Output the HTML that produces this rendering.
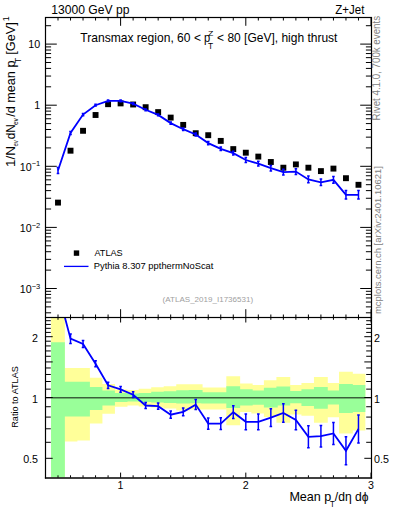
<!DOCTYPE html><html><head><meta charset="utf-8"><style>html,body{margin:0;padding:0;background:#fff;width:393px;height:512px;overflow:hidden}svg{display:block}text{font-family:"Liberation Sans", sans-serif}</style></head><body>
<svg width="393" height="512" viewBox="0 0 393 512">
<rect width="393" height="512" fill="#fff"/>
<defs><clipPath id="cm"><rect x="45.50" y="17.50" width="326.00" height="300.00"/></clipPath>
<clipPath id="cr"><rect x="45.50" y="317.50" width="326.00" height="160.10"/></clipPath></defs>
<g clip-path="url(#cr)">
<path d="M351.52 373.80H365.34V430.60H351.52ZM339.00 371.80H352.82V433.40H339.00ZM326.48 383.00H340.30V417.20H326.48ZM313.96 377.10H327.78V422.80H313.96ZM301.44 383.00H315.26V415.80H301.44ZM288.92 385.00H302.74V414.40H288.92ZM276.40 377.00H290.22V422.80H276.40ZM263.88 380.30H277.70V417.00H263.88ZM251.36 385.10H265.18V413.40H251.36ZM238.84 383.40H252.66V412.00H238.84ZM226.32 376.20H240.14V425.30H226.32ZM213.80 387.50H227.62V409.60H213.80ZM201.28 387.50H215.10V409.60H201.28ZM188.76 384.20H202.58V409.60H188.76ZM176.24 384.20H190.06V410.60H176.24ZM163.72 386.20H177.54V408.60H163.72ZM151.20 387.20H165.02V407.60H151.20ZM138.68 388.80H152.50V406.60H138.68ZM126.16 390.00H139.98V405.50H126.16ZM113.64 389.40H127.46V406.70H113.64ZM101.12 384.00H114.94V413.80H101.12ZM88.60 377.80H102.42V423.60H88.60ZM76.08 368.00H89.90V440.50H76.08ZM63.56 368.00H77.38V441.60H63.56ZM51.04 317.50H64.86V477.60H51.04Z" fill="#ffff99"/>
<path d="M351.52 385.00H365.34V412.10H351.52ZM339.00 384.10H352.82V413.00H339.00ZM326.48 390.60H340.30V404.60H326.48ZM313.96 387.00H327.78V408.80H313.96ZM301.44 389.20H315.26V406.00H301.44ZM288.92 391.10H302.74V403.20H288.92ZM276.40 386.60H290.22V405.40H276.40ZM263.88 387.70H277.70V407.50H263.88ZM251.36 390.60H265.18V404.80H251.36ZM238.84 389.30H252.66V405.50H238.84ZM226.32 386.20H240.14V407.90H226.32ZM213.80 392.20H227.62V403.60H213.80ZM201.28 392.20H215.10V403.60H201.28ZM188.76 390.00H202.58V403.30H188.76ZM176.24 390.30H190.06V403.50H176.24ZM163.72 391.30H177.54V403.10H163.72ZM151.20 391.70H165.02V402.50H151.20ZM138.68 392.90H152.50V401.90H138.68ZM126.16 393.50H139.98V401.50H126.16ZM113.64 393.10H127.46V401.90H113.64ZM101.12 390.60H114.94V405.40H101.12ZM88.60 387.10H102.42V409.90H88.60ZM76.08 381.70H89.90V416.60H76.08ZM63.56 381.70H77.38V416.60H63.56ZM51.04 342.20H64.86V477.60H51.04Z" fill="#99ff99"/>
</g>
<line x1="45.50" y1="397.80" x2="371.50" y2="397.80" stroke="#000" stroke-opacity="0.62" stroke-width="1.5"/>
<g><line x1="58.00" y1="17.50" x2="58.00" y2="20.50" stroke="#000" stroke-width="1.00"/><line x1="58.00" y1="317.50" x2="58.00" y2="314.50" stroke="#000" stroke-width="1.00"/><line x1="58.00" y1="317.50" x2="58.00" y2="319.80" stroke="#000" stroke-width="1.00"/><line x1="58.00" y1="477.60" x2="58.00" y2="475.30" stroke="#000" stroke-width="1.00"/><line x1="70.52" y1="17.50" x2="70.52" y2="20.50" stroke="#000" stroke-width="1.00"/><line x1="70.52" y1="317.50" x2="70.52" y2="314.50" stroke="#000" stroke-width="1.00"/><line x1="70.52" y1="317.50" x2="70.52" y2="319.80" stroke="#000" stroke-width="1.00"/><line x1="70.52" y1="477.60" x2="70.52" y2="475.30" stroke="#000" stroke-width="1.00"/><line x1="83.04" y1="17.50" x2="83.04" y2="20.50" stroke="#000" stroke-width="1.00"/><line x1="83.04" y1="317.50" x2="83.04" y2="314.50" stroke="#000" stroke-width="1.00"/><line x1="83.04" y1="317.50" x2="83.04" y2="319.80" stroke="#000" stroke-width="1.00"/><line x1="83.04" y1="477.60" x2="83.04" y2="475.30" stroke="#000" stroke-width="1.00"/><line x1="95.56" y1="17.50" x2="95.56" y2="20.50" stroke="#000" stroke-width="1.00"/><line x1="95.56" y1="317.50" x2="95.56" y2="314.50" stroke="#000" stroke-width="1.00"/><line x1="95.56" y1="317.50" x2="95.56" y2="319.80" stroke="#000" stroke-width="1.00"/><line x1="95.56" y1="477.60" x2="95.56" y2="475.30" stroke="#000" stroke-width="1.00"/><line x1="108.08" y1="17.50" x2="108.08" y2="20.50" stroke="#000" stroke-width="1.00"/><line x1="108.08" y1="317.50" x2="108.08" y2="314.50" stroke="#000" stroke-width="1.00"/><line x1="108.08" y1="317.50" x2="108.08" y2="319.80" stroke="#000" stroke-width="1.00"/><line x1="108.08" y1="477.60" x2="108.08" y2="475.30" stroke="#000" stroke-width="1.00"/><line x1="120.60" y1="17.50" x2="120.60" y2="25.80" stroke="#000" stroke-width="1.00"/><line x1="120.60" y1="317.50" x2="120.60" y2="309.20" stroke="#000" stroke-width="1.00"/><line x1="120.60" y1="317.50" x2="120.60" y2="322.50" stroke="#000" stroke-width="1.00"/><line x1="120.60" y1="477.60" x2="120.60" y2="472.60" stroke="#000" stroke-width="1.00"/><line x1="133.12" y1="17.50" x2="133.12" y2="20.50" stroke="#000" stroke-width="1.00"/><line x1="133.12" y1="317.50" x2="133.12" y2="314.50" stroke="#000" stroke-width="1.00"/><line x1="133.12" y1="317.50" x2="133.12" y2="319.80" stroke="#000" stroke-width="1.00"/><line x1="133.12" y1="477.60" x2="133.12" y2="475.30" stroke="#000" stroke-width="1.00"/><line x1="145.64" y1="17.50" x2="145.64" y2="20.50" stroke="#000" stroke-width="1.00"/><line x1="145.64" y1="317.50" x2="145.64" y2="314.50" stroke="#000" stroke-width="1.00"/><line x1="145.64" y1="317.50" x2="145.64" y2="319.80" stroke="#000" stroke-width="1.00"/><line x1="145.64" y1="477.60" x2="145.64" y2="475.30" stroke="#000" stroke-width="1.00"/><line x1="158.16" y1="17.50" x2="158.16" y2="20.50" stroke="#000" stroke-width="1.00"/><line x1="158.16" y1="317.50" x2="158.16" y2="314.50" stroke="#000" stroke-width="1.00"/><line x1="158.16" y1="317.50" x2="158.16" y2="319.80" stroke="#000" stroke-width="1.00"/><line x1="158.16" y1="477.60" x2="158.16" y2="475.30" stroke="#000" stroke-width="1.00"/><line x1="170.68" y1="17.50" x2="170.68" y2="20.50" stroke="#000" stroke-width="1.00"/><line x1="170.68" y1="317.50" x2="170.68" y2="314.50" stroke="#000" stroke-width="1.00"/><line x1="170.68" y1="317.50" x2="170.68" y2="319.80" stroke="#000" stroke-width="1.00"/><line x1="170.68" y1="477.60" x2="170.68" y2="475.30" stroke="#000" stroke-width="1.00"/><line x1="183.20" y1="17.50" x2="183.20" y2="20.50" stroke="#000" stroke-width="1.00"/><line x1="183.20" y1="317.50" x2="183.20" y2="314.50" stroke="#000" stroke-width="1.00"/><line x1="183.20" y1="317.50" x2="183.20" y2="319.80" stroke="#000" stroke-width="1.00"/><line x1="183.20" y1="477.60" x2="183.20" y2="475.30" stroke="#000" stroke-width="1.00"/><line x1="195.72" y1="17.50" x2="195.72" y2="20.50" stroke="#000" stroke-width="1.00"/><line x1="195.72" y1="317.50" x2="195.72" y2="314.50" stroke="#000" stroke-width="1.00"/><line x1="195.72" y1="317.50" x2="195.72" y2="319.80" stroke="#000" stroke-width="1.00"/><line x1="195.72" y1="477.60" x2="195.72" y2="475.30" stroke="#000" stroke-width="1.00"/><line x1="208.24" y1="17.50" x2="208.24" y2="20.50" stroke="#000" stroke-width="1.00"/><line x1="208.24" y1="317.50" x2="208.24" y2="314.50" stroke="#000" stroke-width="1.00"/><line x1="208.24" y1="317.50" x2="208.24" y2="319.80" stroke="#000" stroke-width="1.00"/><line x1="208.24" y1="477.60" x2="208.24" y2="475.30" stroke="#000" stroke-width="1.00"/><line x1="220.76" y1="17.50" x2="220.76" y2="20.50" stroke="#000" stroke-width="1.00"/><line x1="220.76" y1="317.50" x2="220.76" y2="314.50" stroke="#000" stroke-width="1.00"/><line x1="220.76" y1="317.50" x2="220.76" y2="319.80" stroke="#000" stroke-width="1.00"/><line x1="220.76" y1="477.60" x2="220.76" y2="475.30" stroke="#000" stroke-width="1.00"/><line x1="233.28" y1="17.50" x2="233.28" y2="20.50" stroke="#000" stroke-width="1.00"/><line x1="233.28" y1="317.50" x2="233.28" y2="314.50" stroke="#000" stroke-width="1.00"/><line x1="233.28" y1="317.50" x2="233.28" y2="319.80" stroke="#000" stroke-width="1.00"/><line x1="233.28" y1="477.60" x2="233.28" y2="475.30" stroke="#000" stroke-width="1.00"/><line x1="245.80" y1="17.50" x2="245.80" y2="25.80" stroke="#000" stroke-width="1.00"/><line x1="245.80" y1="317.50" x2="245.80" y2="309.20" stroke="#000" stroke-width="1.00"/><line x1="245.80" y1="317.50" x2="245.80" y2="322.50" stroke="#000" stroke-width="1.00"/><line x1="245.80" y1="477.60" x2="245.80" y2="472.60" stroke="#000" stroke-width="1.00"/><line x1="258.32" y1="17.50" x2="258.32" y2="20.50" stroke="#000" stroke-width="1.00"/><line x1="258.32" y1="317.50" x2="258.32" y2="314.50" stroke="#000" stroke-width="1.00"/><line x1="258.32" y1="317.50" x2="258.32" y2="319.80" stroke="#000" stroke-width="1.00"/><line x1="258.32" y1="477.60" x2="258.32" y2="475.30" stroke="#000" stroke-width="1.00"/><line x1="270.84" y1="17.50" x2="270.84" y2="20.50" stroke="#000" stroke-width="1.00"/><line x1="270.84" y1="317.50" x2="270.84" y2="314.50" stroke="#000" stroke-width="1.00"/><line x1="270.84" y1="317.50" x2="270.84" y2="319.80" stroke="#000" stroke-width="1.00"/><line x1="270.84" y1="477.60" x2="270.84" y2="475.30" stroke="#000" stroke-width="1.00"/><line x1="283.36" y1="17.50" x2="283.36" y2="20.50" stroke="#000" stroke-width="1.00"/><line x1="283.36" y1="317.50" x2="283.36" y2="314.50" stroke="#000" stroke-width="1.00"/><line x1="283.36" y1="317.50" x2="283.36" y2="319.80" stroke="#000" stroke-width="1.00"/><line x1="283.36" y1="477.60" x2="283.36" y2="475.30" stroke="#000" stroke-width="1.00"/><line x1="295.88" y1="17.50" x2="295.88" y2="20.50" stroke="#000" stroke-width="1.00"/><line x1="295.88" y1="317.50" x2="295.88" y2="314.50" stroke="#000" stroke-width="1.00"/><line x1="295.88" y1="317.50" x2="295.88" y2="319.80" stroke="#000" stroke-width="1.00"/><line x1="295.88" y1="477.60" x2="295.88" y2="475.30" stroke="#000" stroke-width="1.00"/><line x1="308.40" y1="17.50" x2="308.40" y2="20.50" stroke="#000" stroke-width="1.00"/><line x1="308.40" y1="317.50" x2="308.40" y2="314.50" stroke="#000" stroke-width="1.00"/><line x1="308.40" y1="317.50" x2="308.40" y2="319.80" stroke="#000" stroke-width="1.00"/><line x1="308.40" y1="477.60" x2="308.40" y2="475.30" stroke="#000" stroke-width="1.00"/><line x1="320.92" y1="17.50" x2="320.92" y2="20.50" stroke="#000" stroke-width="1.00"/><line x1="320.92" y1="317.50" x2="320.92" y2="314.50" stroke="#000" stroke-width="1.00"/><line x1="320.92" y1="317.50" x2="320.92" y2="319.80" stroke="#000" stroke-width="1.00"/><line x1="320.92" y1="477.60" x2="320.92" y2="475.30" stroke="#000" stroke-width="1.00"/><line x1="333.44" y1="17.50" x2="333.44" y2="20.50" stroke="#000" stroke-width="1.00"/><line x1="333.44" y1="317.50" x2="333.44" y2="314.50" stroke="#000" stroke-width="1.00"/><line x1="333.44" y1="317.50" x2="333.44" y2="319.80" stroke="#000" stroke-width="1.00"/><line x1="333.44" y1="477.60" x2="333.44" y2="475.30" stroke="#000" stroke-width="1.00"/><line x1="345.96" y1="17.50" x2="345.96" y2="20.50" stroke="#000" stroke-width="1.00"/><line x1="345.96" y1="317.50" x2="345.96" y2="314.50" stroke="#000" stroke-width="1.00"/><line x1="345.96" y1="317.50" x2="345.96" y2="319.80" stroke="#000" stroke-width="1.00"/><line x1="345.96" y1="477.60" x2="345.96" y2="475.30" stroke="#000" stroke-width="1.00"/><line x1="358.48" y1="17.50" x2="358.48" y2="20.50" stroke="#000" stroke-width="1.00"/><line x1="358.48" y1="317.50" x2="358.48" y2="314.50" stroke="#000" stroke-width="1.00"/><line x1="358.48" y1="317.50" x2="358.48" y2="319.80" stroke="#000" stroke-width="1.00"/><line x1="358.48" y1="477.60" x2="358.48" y2="475.30" stroke="#000" stroke-width="1.00"/><line x1="371.00" y1="17.50" x2="371.00" y2="25.80" stroke="#000" stroke-width="1.00"/><line x1="371.00" y1="317.50" x2="371.00" y2="309.20" stroke="#000" stroke-width="1.00"/><line x1="371.00" y1="317.50" x2="371.00" y2="322.50" stroke="#000" stroke-width="1.00"/><line x1="371.00" y1="477.60" x2="371.00" y2="472.60" stroke="#000" stroke-width="1.00"/><line x1="45.50" y1="312.81" x2="51.10" y2="312.81" stroke="#000" stroke-width="1.00"/><line x1="371.50" y1="312.81" x2="365.90" y2="312.81" stroke="#000" stroke-width="1.00"/><line x1="45.50" y1="306.89" x2="51.10" y2="306.89" stroke="#000" stroke-width="1.00"/><line x1="371.50" y1="306.89" x2="365.90" y2="306.89" stroke="#000" stroke-width="1.00"/><line x1="45.50" y1="302.05" x2="51.10" y2="302.05" stroke="#000" stroke-width="1.00"/><line x1="371.50" y1="302.05" x2="365.90" y2="302.05" stroke="#000" stroke-width="1.00"/><line x1="45.50" y1="297.96" x2="51.10" y2="297.96" stroke="#000" stroke-width="1.00"/><line x1="371.50" y1="297.96" x2="365.90" y2="297.96" stroke="#000" stroke-width="1.00"/><line x1="45.50" y1="294.42" x2="51.10" y2="294.42" stroke="#000" stroke-width="1.00"/><line x1="371.50" y1="294.42" x2="365.90" y2="294.42" stroke="#000" stroke-width="1.00"/><line x1="45.50" y1="291.30" x2="51.10" y2="291.30" stroke="#000" stroke-width="1.00"/><line x1="371.50" y1="291.30" x2="365.90" y2="291.30" stroke="#000" stroke-width="1.00"/><line x1="45.50" y1="288.50" x2="56.80" y2="288.50" stroke="#000" stroke-width="1.00"/><line x1="371.50" y1="288.50" x2="360.20" y2="288.50" stroke="#000" stroke-width="1.00"/><line x1="45.50" y1="270.11" x2="51.10" y2="270.11" stroke="#000" stroke-width="1.00"/><line x1="371.50" y1="270.11" x2="365.90" y2="270.11" stroke="#000" stroke-width="1.00"/><line x1="45.50" y1="259.35" x2="51.10" y2="259.35" stroke="#000" stroke-width="1.00"/><line x1="371.50" y1="259.35" x2="365.90" y2="259.35" stroke="#000" stroke-width="1.00"/><line x1="45.50" y1="251.71" x2="51.10" y2="251.71" stroke="#000" stroke-width="1.00"/><line x1="371.50" y1="251.71" x2="365.90" y2="251.71" stroke="#000" stroke-width="1.00"/><line x1="45.50" y1="245.79" x2="51.10" y2="245.79" stroke="#000" stroke-width="1.00"/><line x1="371.50" y1="245.79" x2="365.90" y2="245.79" stroke="#000" stroke-width="1.00"/><line x1="45.50" y1="240.95" x2="51.10" y2="240.95" stroke="#000" stroke-width="1.00"/><line x1="371.50" y1="240.95" x2="365.90" y2="240.95" stroke="#000" stroke-width="1.00"/><line x1="45.50" y1="236.86" x2="51.10" y2="236.86" stroke="#000" stroke-width="1.00"/><line x1="371.50" y1="236.86" x2="365.90" y2="236.86" stroke="#000" stroke-width="1.00"/><line x1="45.50" y1="233.32" x2="51.10" y2="233.32" stroke="#000" stroke-width="1.00"/><line x1="371.50" y1="233.32" x2="365.90" y2="233.32" stroke="#000" stroke-width="1.00"/><line x1="45.50" y1="230.20" x2="51.10" y2="230.20" stroke="#000" stroke-width="1.00"/><line x1="371.50" y1="230.20" x2="365.90" y2="230.20" stroke="#000" stroke-width="1.00"/><line x1="45.50" y1="227.40" x2="56.80" y2="227.40" stroke="#000" stroke-width="1.00"/><line x1="371.50" y1="227.40" x2="360.20" y2="227.40" stroke="#000" stroke-width="1.00"/><line x1="45.50" y1="209.01" x2="51.10" y2="209.01" stroke="#000" stroke-width="1.00"/><line x1="371.50" y1="209.01" x2="365.90" y2="209.01" stroke="#000" stroke-width="1.00"/><line x1="45.50" y1="198.25" x2="51.10" y2="198.25" stroke="#000" stroke-width="1.00"/><line x1="371.50" y1="198.25" x2="365.90" y2="198.25" stroke="#000" stroke-width="1.00"/><line x1="45.50" y1="190.61" x2="51.10" y2="190.61" stroke="#000" stroke-width="1.00"/><line x1="371.50" y1="190.61" x2="365.90" y2="190.61" stroke="#000" stroke-width="1.00"/><line x1="45.50" y1="184.69" x2="51.10" y2="184.69" stroke="#000" stroke-width="1.00"/><line x1="371.50" y1="184.69" x2="365.90" y2="184.69" stroke="#000" stroke-width="1.00"/><line x1="45.50" y1="179.85" x2="51.10" y2="179.85" stroke="#000" stroke-width="1.00"/><line x1="371.50" y1="179.85" x2="365.90" y2="179.85" stroke="#000" stroke-width="1.00"/><line x1="45.50" y1="175.76" x2="51.10" y2="175.76" stroke="#000" stroke-width="1.00"/><line x1="371.50" y1="175.76" x2="365.90" y2="175.76" stroke="#000" stroke-width="1.00"/><line x1="45.50" y1="172.22" x2="51.10" y2="172.22" stroke="#000" stroke-width="1.00"/><line x1="371.50" y1="172.22" x2="365.90" y2="172.22" stroke="#000" stroke-width="1.00"/><line x1="45.50" y1="169.10" x2="51.10" y2="169.10" stroke="#000" stroke-width="1.00"/><line x1="371.50" y1="169.10" x2="365.90" y2="169.10" stroke="#000" stroke-width="1.00"/><line x1="45.50" y1="166.30" x2="56.80" y2="166.30" stroke="#000" stroke-width="1.00"/><line x1="371.50" y1="166.30" x2="360.20" y2="166.30" stroke="#000" stroke-width="1.00"/><line x1="45.50" y1="147.91" x2="51.10" y2="147.91" stroke="#000" stroke-width="1.00"/><line x1="371.50" y1="147.91" x2="365.90" y2="147.91" stroke="#000" stroke-width="1.00"/><line x1="45.50" y1="137.15" x2="51.10" y2="137.15" stroke="#000" stroke-width="1.00"/><line x1="371.50" y1="137.15" x2="365.90" y2="137.15" stroke="#000" stroke-width="1.00"/><line x1="45.50" y1="129.51" x2="51.10" y2="129.51" stroke="#000" stroke-width="1.00"/><line x1="371.50" y1="129.51" x2="365.90" y2="129.51" stroke="#000" stroke-width="1.00"/><line x1="45.50" y1="123.59" x2="51.10" y2="123.59" stroke="#000" stroke-width="1.00"/><line x1="371.50" y1="123.59" x2="365.90" y2="123.59" stroke="#000" stroke-width="1.00"/><line x1="45.50" y1="118.75" x2="51.10" y2="118.75" stroke="#000" stroke-width="1.00"/><line x1="371.50" y1="118.75" x2="365.90" y2="118.75" stroke="#000" stroke-width="1.00"/><line x1="45.50" y1="114.66" x2="51.10" y2="114.66" stroke="#000" stroke-width="1.00"/><line x1="371.50" y1="114.66" x2="365.90" y2="114.66" stroke="#000" stroke-width="1.00"/><line x1="45.50" y1="111.12" x2="51.10" y2="111.12" stroke="#000" stroke-width="1.00"/><line x1="371.50" y1="111.12" x2="365.90" y2="111.12" stroke="#000" stroke-width="1.00"/><line x1="45.50" y1="108.00" x2="51.10" y2="108.00" stroke="#000" stroke-width="1.00"/><line x1="371.50" y1="108.00" x2="365.90" y2="108.00" stroke="#000" stroke-width="1.00"/><line x1="45.50" y1="105.20" x2="56.80" y2="105.20" stroke="#000" stroke-width="1.00"/><line x1="371.50" y1="105.20" x2="360.20" y2="105.20" stroke="#000" stroke-width="1.00"/><line x1="45.50" y1="86.81" x2="51.10" y2="86.81" stroke="#000" stroke-width="1.00"/><line x1="371.50" y1="86.81" x2="365.90" y2="86.81" stroke="#000" stroke-width="1.00"/><line x1="45.50" y1="76.05" x2="51.10" y2="76.05" stroke="#000" stroke-width="1.00"/><line x1="371.50" y1="76.05" x2="365.90" y2="76.05" stroke="#000" stroke-width="1.00"/><line x1="45.50" y1="68.41" x2="51.10" y2="68.41" stroke="#000" stroke-width="1.00"/><line x1="371.50" y1="68.41" x2="365.90" y2="68.41" stroke="#000" stroke-width="1.00"/><line x1="45.50" y1="62.49" x2="51.10" y2="62.49" stroke="#000" stroke-width="1.00"/><line x1="371.50" y1="62.49" x2="365.90" y2="62.49" stroke="#000" stroke-width="1.00"/><line x1="45.50" y1="57.65" x2="51.10" y2="57.65" stroke="#000" stroke-width="1.00"/><line x1="371.50" y1="57.65" x2="365.90" y2="57.65" stroke="#000" stroke-width="1.00"/><line x1="45.50" y1="53.56" x2="51.10" y2="53.56" stroke="#000" stroke-width="1.00"/><line x1="371.50" y1="53.56" x2="365.90" y2="53.56" stroke="#000" stroke-width="1.00"/><line x1="45.50" y1="50.02" x2="51.10" y2="50.02" stroke="#000" stroke-width="1.00"/><line x1="371.50" y1="50.02" x2="365.90" y2="50.02" stroke="#000" stroke-width="1.00"/><line x1="45.50" y1="46.90" x2="51.10" y2="46.90" stroke="#000" stroke-width="1.00"/><line x1="371.50" y1="46.90" x2="365.90" y2="46.90" stroke="#000" stroke-width="1.00"/><line x1="45.50" y1="44.10" x2="56.80" y2="44.10" stroke="#000" stroke-width="1.00"/><line x1="371.50" y1="44.10" x2="360.20" y2="44.10" stroke="#000" stroke-width="1.00"/><line x1="45.50" y1="25.71" x2="51.10" y2="25.71" stroke="#000" stroke-width="1.00"/><line x1="371.50" y1="25.71" x2="365.90" y2="25.71" stroke="#000" stroke-width="1.00"/><line x1="45.50" y1="458.31" x2="52.70" y2="458.31" stroke="#000" stroke-width="1.00"/><line x1="371.50" y1="458.31" x2="364.30" y2="458.31" stroke="#000" stroke-width="1.00"/><line x1="45.50" y1="442.31" x2="50.80" y2="442.31" stroke="#000" stroke-width="1.00"/><line x1="371.50" y1="442.31" x2="366.20" y2="442.31" stroke="#000" stroke-width="1.00"/><line x1="45.50" y1="428.79" x2="50.80" y2="428.79" stroke="#000" stroke-width="1.00"/><line x1="371.50" y1="428.79" x2="366.20" y2="428.79" stroke="#000" stroke-width="1.00"/><line x1="45.50" y1="417.08" x2="50.80" y2="417.08" stroke="#000" stroke-width="1.00"/><line x1="371.50" y1="417.08" x2="366.20" y2="417.08" stroke="#000" stroke-width="1.00"/><line x1="45.50" y1="406.74" x2="50.80" y2="406.74" stroke="#000" stroke-width="1.00"/><line x1="371.50" y1="406.74" x2="366.20" y2="406.74" stroke="#000" stroke-width="1.00"/><line x1="45.50" y1="397.50" x2="52.70" y2="397.50" stroke="#000" stroke-width="1.00"/><line x1="371.50" y1="397.50" x2="364.30" y2="397.50" stroke="#000" stroke-width="1.00"/><line x1="45.50" y1="389.14" x2="50.80" y2="389.14" stroke="#000" stroke-width="1.00"/><line x1="371.50" y1="389.14" x2="366.20" y2="389.14" stroke="#000" stroke-width="1.00"/><line x1="45.50" y1="381.51" x2="50.80" y2="381.51" stroke="#000" stroke-width="1.00"/><line x1="371.50" y1="381.51" x2="366.20" y2="381.51" stroke="#000" stroke-width="1.00"/><line x1="45.50" y1="374.48" x2="50.80" y2="374.48" stroke="#000" stroke-width="1.00"/><line x1="371.50" y1="374.48" x2="366.20" y2="374.48" stroke="#000" stroke-width="1.00"/><line x1="45.50" y1="367.98" x2="50.80" y2="367.98" stroke="#000" stroke-width="1.00"/><line x1="371.50" y1="367.98" x2="366.20" y2="367.98" stroke="#000" stroke-width="1.00"/><line x1="45.50" y1="361.93" x2="52.70" y2="361.93" stroke="#000" stroke-width="1.00"/><line x1="371.50" y1="361.93" x2="364.30" y2="361.93" stroke="#000" stroke-width="1.00"/><line x1="45.50" y1="356.27" x2="50.80" y2="356.27" stroke="#000" stroke-width="1.00"/><line x1="371.50" y1="356.27" x2="366.20" y2="356.27" stroke="#000" stroke-width="1.00"/><line x1="45.50" y1="350.95" x2="50.80" y2="350.95" stroke="#000" stroke-width="1.00"/><line x1="371.50" y1="350.95" x2="366.20" y2="350.95" stroke="#000" stroke-width="1.00"/><line x1="45.50" y1="345.93" x2="50.80" y2="345.93" stroke="#000" stroke-width="1.00"/><line x1="371.50" y1="345.93" x2="366.20" y2="345.93" stroke="#000" stroke-width="1.00"/><line x1="45.50" y1="341.19" x2="50.80" y2="341.19" stroke="#000" stroke-width="1.00"/><line x1="371.50" y1="341.19" x2="366.20" y2="341.19" stroke="#000" stroke-width="1.00"/><line x1="45.50" y1="336.69" x2="52.70" y2="336.69" stroke="#000" stroke-width="1.00"/><line x1="371.50" y1="336.69" x2="364.30" y2="336.69" stroke="#000" stroke-width="1.00"/><line x1="45.50" y1="332.41" x2="50.80" y2="332.41" stroke="#000" stroke-width="1.00"/><line x1="371.50" y1="332.41" x2="366.20" y2="332.41" stroke="#000" stroke-width="1.00"/><line x1="45.50" y1="328.33" x2="50.80" y2="328.33" stroke="#000" stroke-width="1.00"/><line x1="371.50" y1="328.33" x2="366.20" y2="328.33" stroke="#000" stroke-width="1.00"/><line x1="45.50" y1="324.43" x2="50.80" y2="324.43" stroke="#000" stroke-width="1.00"/><line x1="371.50" y1="324.43" x2="366.20" y2="324.43" stroke="#000" stroke-width="1.00"/><line x1="45.50" y1="320.70" x2="50.80" y2="320.70" stroke="#000" stroke-width="1.00"/><line x1="371.50" y1="320.70" x2="366.20" y2="320.70" stroke="#000" stroke-width="1.00"/></g>
<g clip-path="url(#cr)">
<polyline fill="none" stroke="#0000ff" stroke-width="1.8" stroke-linejoin="miter" points="58.00,291.38 70.52,338.70 83.04,344.00 95.56,363.80 108.08,385.30 120.60,389.40 133.12,394.70 145.64,405.50 158.16,406.20 170.68,414.70 183.20,411.90 195.72,404.60 208.24,423.60 220.76,423.60 233.28,412.20 245.80,421.80 258.32,421.80 270.84,417.60 283.36,413.00 295.88,420.00 308.40,436.80 320.92,436.20 333.44,433.40 345.96,450.80 358.48,428.90"/>
<path d="M70.52 333.95V343.45M69.22 333.95H71.82M69.22 343.45H71.82M83.04 340.40V347.60M81.74 340.40H84.34M81.74 347.60H84.34M95.56 360.75V366.85M94.26 360.75H96.86M94.26 366.85H96.86M108.08 382.20V388.40M106.78 382.20H109.38M106.78 388.40H109.38M120.60 386.55V392.25M119.30 386.55H121.90M119.30 392.25H121.90M133.12 391.85V397.55M131.82 391.85H134.42M131.82 397.55H134.42M145.64 402.60V408.40M144.34 402.60H146.94M144.34 408.40H146.94M158.16 403.10V409.30M156.86 403.10H159.46M156.86 409.30H159.46M170.68 411.10V418.30M169.38 411.10H171.98M169.38 418.30H171.98M183.20 408.00V415.80M181.90 408.00H184.50M181.90 415.80H184.50M195.72 399.60V409.60M194.42 399.60H197.02M194.42 409.60H197.02M208.24 418.00V429.20M206.94 418.00H209.54M206.94 429.20H209.54M220.76 417.80V429.40M219.46 417.80H222.06M219.46 429.40H222.06M233.28 405.85V418.55M231.98 405.85H234.58M231.98 418.55H234.58M245.80 413.90V429.70M244.50 413.90H247.10M244.50 429.70H247.10M258.32 413.90V429.70M257.02 413.90H259.62M257.02 429.70H259.62M270.84 408.70V426.50M269.54 408.70H272.14M269.54 426.50H272.14M283.36 403.65V422.35M282.06 403.65H284.66M282.06 422.35H284.66M295.88 410.35V429.65M294.58 410.35H297.18M294.58 429.65H297.18M308.40 425.80V447.80M307.10 425.80H309.70M307.10 447.80H309.70M320.92 425.45V446.95M319.62 425.45H322.22M319.62 446.95H322.22M333.44 422.40V444.40M332.14 422.40H334.74M332.14 444.40H334.74M345.96 436.80V464.80M344.66 436.80H347.26M344.66 464.80H347.26M358.48 414.90V442.90M357.18 414.90H359.78M357.18 442.90H359.78" stroke="#0000ff" stroke-width="1.5" fill="none"/>
</g>
<g clip-path="url(#cm)">
<rect x="55.05" y="199.65" width="5.9" height="5.9" fill="#000"/>
<rect x="67.57" y="147.75" width="5.9" height="5.9" fill="#000"/>
<rect x="80.09" y="127.85" width="5.9" height="5.9" fill="#000"/>
<rect x="92.61" y="112.05" width="5.9" height="5.9" fill="#000"/>
<rect x="105.13" y="101.25" width="5.9" height="5.9" fill="#000"/>
<rect x="117.65" y="100.45" width="5.9" height="5.9" fill="#000"/>
<rect x="130.17" y="101.55" width="5.9" height="5.9" fill="#000"/>
<rect x="142.69" y="104.25" width="5.9" height="5.9" fill="#000"/>
<rect x="155.21" y="109.15" width="5.9" height="5.9" fill="#000"/>
<rect x="167.73" y="114.65" width="5.9" height="5.9" fill="#000"/>
<rect x="180.25" y="121.95" width="5.9" height="5.9" fill="#000"/>
<rect x="192.77" y="130.25" width="5.9" height="5.9" fill="#000"/>
<rect x="205.29" y="132.25" width="5.9" height="5.9" fill="#000"/>
<rect x="217.81" y="137.95" width="5.9" height="5.9" fill="#000"/>
<rect x="230.33" y="146.15" width="5.9" height="5.9" fill="#000"/>
<rect x="242.85" y="149.75" width="5.9" height="5.9" fill="#000"/>
<rect x="255.37" y="153.65" width="5.9" height="5.9" fill="#000"/>
<rect x="267.89" y="159.05" width="5.9" height="5.9" fill="#000"/>
<rect x="280.41" y="164.75" width="5.9" height="5.9" fill="#000"/>
<rect x="292.93" y="161.45" width="5.9" height="5.9" fill="#000"/>
<rect x="305.45" y="164.75" width="5.9" height="5.9" fill="#000"/>
<rect x="317.97" y="168.15" width="5.9" height="5.9" fill="#000"/>
<rect x="330.49" y="165.65" width="5.9" height="5.9" fill="#000"/>
<rect x="343.01" y="175.25" width="5.9" height="5.9" fill="#000"/>
<rect x="355.53" y="181.85" width="5.9" height="5.9" fill="#000"/>
<polyline fill="none" stroke="#0000ff" stroke-width="1.8" points="58.00,170.50 70.52,133.00 83.04,114.60 95.56,105.20 108.08,100.90 120.60,100.90 133.12,103.60 145.64,109.80 158.16,114.90 170.68,123.10 183.20,129.20 195.72,134.50 208.24,143.10 220.76,148.80 233.28,153.20 245.80,160.00 258.32,163.70 270.84,168.20 283.36,172.20 295.88,171.60 308.40,179.40 320.92,182.30 333.44,179.80 345.96,194.80 358.48,194.80"/>
<path d="M58.00 167.48V173.52M56.70 167.48H59.30M56.70 173.52H59.30M70.52 131.56V134.44M69.22 131.56H71.82M69.22 134.44H71.82M83.04 113.51V115.69M81.74 113.51H84.34M81.74 115.69H84.34M95.56 104.28V106.12M94.26 104.28H96.86M94.26 106.12H96.86M108.08 99.96V101.84M106.78 99.96H109.38M106.78 101.84H109.38M120.60 100.00V101.80M119.30 100.00H121.90M119.30 101.80H121.90M133.12 102.70V104.50M131.82 102.70H134.42M131.82 104.50H134.42M145.64 108.90V110.70M144.34 108.90H146.94M144.34 110.70H146.94M158.16 113.96V115.84M156.86 113.96H159.46M156.86 115.84H159.46M170.68 122.01V124.19M169.38 122.01H171.98M169.38 124.19H171.98M183.20 128.02V130.38M181.90 128.02H184.50M181.90 130.38H184.50M195.72 132.99V136.01M194.42 132.99H197.02M194.42 136.01H197.02M208.24 141.41V144.79M206.94 141.41H209.54M206.94 144.79H209.54M220.76 147.05V150.55M219.46 147.05H222.06M219.46 150.55H222.06M233.28 151.28V155.12M231.98 151.28H234.58M231.98 155.12H234.58M245.80 157.61V162.39M244.50 157.61H247.10M244.50 162.39H247.10M258.32 161.31V166.09M257.02 161.31H259.62M257.02 166.09H259.62M270.84 165.51V170.89M269.54 165.51H272.14M269.54 170.89H272.14M283.36 169.37V175.03M282.06 169.37H284.66M282.06 175.03H284.66M295.88 168.68V174.52M294.58 168.68H297.18M294.58 174.52H297.18M308.40 176.07V182.73M307.10 176.07H309.70M307.10 182.73H309.70M320.92 179.05V185.55M319.62 179.05H322.22M319.62 185.55H322.22M333.44 176.47V183.13M332.14 176.47H334.74M332.14 183.13H334.74M345.96 190.57V199.03M344.66 190.57H347.26M344.66 199.03H347.26M358.48 190.57V199.03M357.18 190.57H359.78M357.18 199.03H359.78" stroke="#0000ff" stroke-width="1.5" fill="none"/>
</g>
<rect x="45.50" y="17.50" width="326.00" height="300.00" fill="none" stroke="#000" stroke-width="1.2"/>
<path d="M45.50 317.50V478.50M371.50 317.50V478.50" stroke="#000" stroke-width="1.2" fill="none"/>
<line x1="44.90" y1="477.90" x2="372.10" y2="477.90" stroke="#000" stroke-width="1.5"/>
<text transform="translate(51.29,14.10) scale(0.9699,1)" font-size="12.50" fill="#000">13000 GeV pp</text>
<text transform="translate(335.36,14.10) scale(0.9189,1)" font-size="12.50" fill="#000">Z+Jet</text>
<text transform="translate(80.30,41.90) scale(0.9907,1)" font-size="12.20" fill="#000">Transmax region, 60 &lt;</text>
<text transform="translate(203.98,41.90) scale(0.9107,1)" font-size="12.20" fill="#000">p</text>
<text transform="translate(207.94,36.40) scale(1.1189,1)" font-size="7.80" fill="#000">Z</text>
<text transform="translate(208.09,48.60) scale(0.9903,1)" font-size="8.40" fill="#000">T</text>
<text transform="translate(217.10,41.90) scale(0.9836,1)" font-size="12.20" fill="#000">&lt; 80 [GeV], high thrust</text>
<text transform="translate(289.39,501.00) scale(1.0159,1)" font-size="12.40" fill="#000">Mean p</text>
<text transform="translate(330.11,507.30) scale(0.9383,1)" font-size="8.30" fill="#000">T</text>
<text transform="translate(334.80,501.00) scale(0.9754,1)" font-size="12.40" fill="#000">/d&#951; d&#981;</text>
<text transform="translate(15.20,166.91) rotate(-90) scale(1.0887,1)" font-size="12.40" fill="#000">1/N</text>
<text transform="translate(18.40,146.57) rotate(-90) scale(0.8926,1)" font-size="6.80" fill="#000">ev</text>
<text transform="translate(15.20,139.27) rotate(-90) scale(0.9426,1)" font-size="12.40" fill="#000">dN</text>
<text transform="translate(18.40,125.10) rotate(-90) scale(0.9658,1)" font-size="6.80" fill="#000">ev</text>
<text transform="translate(15.20,116.80) rotate(-90) scale(1.0216,1)" font-size="12.40" fill="#000">/d mean p</text>
<text transform="translate(21.00,63.43) rotate(-90) scale(1.0957,1)" font-size="8.40" fill="#000">T</text>
<text transform="translate(15.20,54.69) rotate(-90) scale(1.0285,1)" font-size="12.40" fill="#000">[GeV]</text>
<text transform="translate(9.40,21.26) rotate(-90) scale(1.0520,1)" font-size="8.40" fill="#000">1</text>
<text transform="translate(17.80,427.73) rotate(-90) scale(0.9684,1)" font-size="9.40" fill="#000">Ratio to ATLAS</text>
<text transform="translate(94.45,255.80) scale(0.9331,1)" font-size="9.80" fill="#000">ATLAS</text>
<text transform="translate(93.75,269.20) scale(0.9553,1)" font-size="9.80" fill="#000">Pythia 8.307 ppthermNoScat</text>
<text transform="translate(162.62,302.40) scale(1.0864,1)" font-size="7.40" fill="#a0a0a0">(ATLAS_2019_I1736531)</text>
<text transform="translate(380.00,120.38) rotate(-90) scale(0.9545,1)" font-size="10.20" fill="#808080">Rivet 4.1.0,  700k events</text>
<text transform="translate(381.00,314.01) rotate(-90) scale(0.9542,1)" font-size="9.90" fill="#808080">mcplots.cern.ch [arXiv:2401.10621]</text>
<text x="40.20" y="47.90" font-size="10.70" text-anchor="end" fill="#000" >10</text>
<text x="40.20" y="109.00" font-size="10.70" text-anchor="end" fill="#000" >1</text>
<text x="40.20" y="170.80" font-size="10.70" text-anchor="end">10<tspan font-size="7.5" dy="-4.5">&#8722;1</tspan></text>
<text x="40.20" y="232.00" font-size="10.70" text-anchor="end">10<tspan font-size="7.5" dy="-4.5">&#8722;2</tspan></text>
<text x="40.20" y="293.00" font-size="10.70" text-anchor="end">10<tspan font-size="7.5" dy="-4.5">&#8722;3</tspan></text>
<text x="38.00" y="341.79" font-size="10.70" text-anchor="end" fill="#000" >2</text>
<text x="374.00" y="341.79" font-size="10.70" text-anchor="start" fill="#000" >2</text>
<text x="38.00" y="402.60" font-size="10.70" text-anchor="end" fill="#000" >1</text>
<text x="374.00" y="402.60" font-size="10.70" text-anchor="start" fill="#000" >1</text>
<text x="38.00" y="463.41" font-size="10.70" text-anchor="end" fill="#000" >0.5</text>
<text x="374.00" y="463.41" font-size="10.70" text-anchor="start" fill="#000" >0.5</text>
<text x="120.60" y="488.90" font-size="10.70" text-anchor="middle" fill="#000" >1</text>
<text x="245.80" y="488.90" font-size="10.70" text-anchor="middle" fill="#000" >2</text>
<text x="371.00" y="488.90" font-size="10.70" text-anchor="middle" fill="#000" >3</text>
<rect x="73.8" y="250.4" width="5.4" height="5.4" fill="#000"/>
<line x1="64" y1="266.4" x2="88.5" y2="266.4" stroke="#0000ff" stroke-width="1.3"/>
</svg></body></html>
